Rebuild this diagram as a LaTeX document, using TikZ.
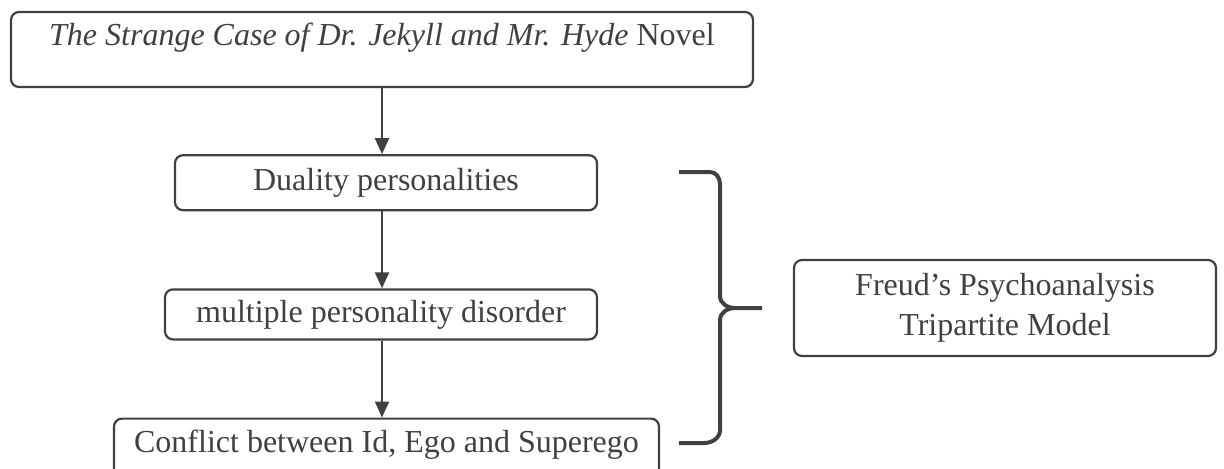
\documentclass[tikz,border=0pt]{standalone}
\usepackage{fontspec}
\setmainfont{Liberation Serif}
\usetikzlibrary{positioning, arrows.meta}
\definecolor{ink}{HTML}{404040}

\begin{document}
\begin{tikzpicture}[x=1pt, y=1pt,
    box/.style={
      rectangle,
      rounded corners=4pt,
      draw=ink,
      line width=1.1pt,
      text=ink,
      font=\fontsize{16}{20}\selectfont,
      inner sep=4pt,
      align=center
    },
    link/.style={->, draw=ink, line width=1.1pt},
    >={Triangle[length=8pt,width=7pt]}]
  \clip (0,0) rectangle (612,-234);
  \node[box, minimum width=371pt, minimum height=37.5pt, text height=12.5pt, text depth=17pt] (novel) at (191,-24.75)
    {\textit{The Strange Case of Dr. Jekyll and Mr. Hyde} Novel};
  \node[box, minimum width=211pt, minimum height=27.5pt, below=33pt of novel, xshift=2pt] (duality) {Duality personalities};
  \node[box, minimum width=216pt, minimum height=25pt, below=38.5pt of duality, xshift=-2.5pt] (multiple) {multiple personality disorder};
  \node[box, minimum width=272.5pt, minimum height=36pt, text height=13pt, text depth=15pt, below=38.5pt of multiple, xshift=2.75pt] (conflict)
    {Conflict between Id, Ego and Superego};
  \node[box, minimum width=211pt, minimum height=48pt] (freud) at (502.5,-154)
    {Freud's Psychoanalysis\\Tripartite Model};
  \draw[link] (novel) -- (novel |- duality.north);
  \draw[link] (novel |- duality.south) -- (novel |- multiple.north);
  \draw[link] (novel |- multiple.south) -- (novel |- conflict.north);
  % brace
  \draw[ink, line width=2pt] (339.5,-86) -- (355,-86) to[out=0,in=90] (360,-92) -- (360,-148)
    to[out=-90,in=180] (367.5,-154) -- (381,-154);
  \draw[ink, line width=2pt] (367.5,-154) to[out=180,in=90] (360,-160) -- (360,-215)
    to[out=-90,in=0] (352,-221.5) -- (339.5,-221.5);
\end{tikzpicture}
\end{document}
